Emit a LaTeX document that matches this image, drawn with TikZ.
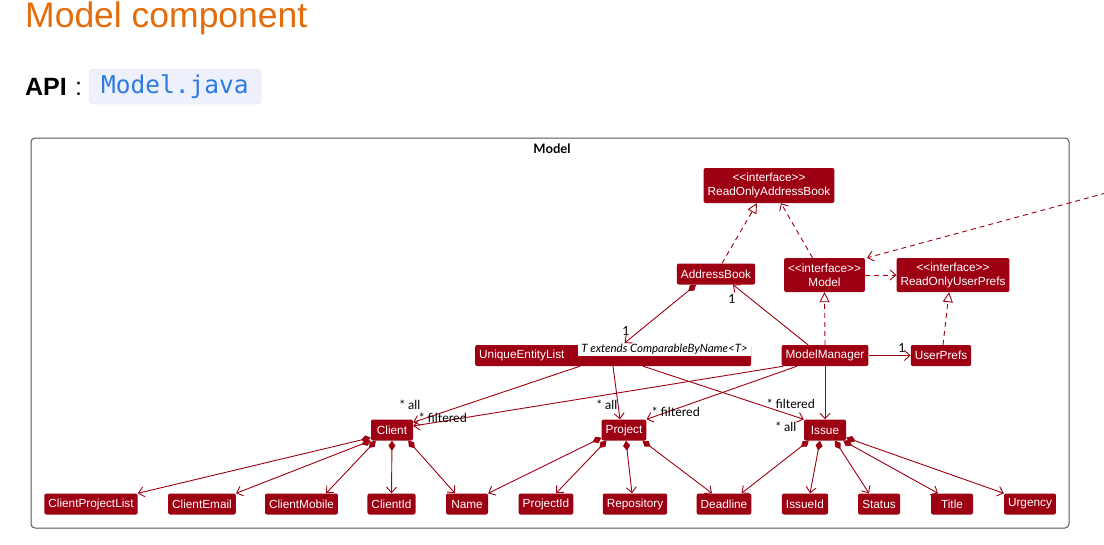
\documentclass[tikz,border=0pt]{standalone}
\usepackage{fontspec}
\setmainfont{Liberation Sans}
\newfontfamily\lblfont{Lato}
\newfontfamily\codefont{DejaVu Sans Mono}
\usetikzlibrary{arrows.meta}
\definecolor{modelred}{HTML}{9D0012}
\definecolor{headorange}{HTML}{E46C0A}
\definecolor{codeblue}{HTML}{2B7BE0}
\definecolor{codebg}{HTML}{EEF0FB}
\definecolor{codeline}{HTML}{DDE1F4}
\definecolor{framegray}{HTML}{555555}
\newcommand\ifc{<\kern0pt<interface>\kern0pt>}
\begin{document}
\begin{tikzpicture}[x=1pt,y=-1pt,
    assoc/.style={draw=modelred,line width=0.9pt,-{Straight Barb[length=5.5pt,width=10pt]}},
    depend/.style={assoc,dash pattern=on 5pt off 4pt},
    realize/.style={draw=modelred,line width=0.9pt,dash pattern=on 5pt off 4pt,
      -{Triangle[open,length=10pt,width=10pt,fill=white]}},
    comp/.style={assoc,{Diamond[length=10pt,width=7pt]}-{Straight Barb[length=5.5pt,width=10pt]}},
    lbl/.style={font=\lblfont\fontsize{12.5}{14}\selectfont,inner sep=0pt}]

  \fill[white] (0,0) rectangle (1104,544);
  \useasboundingbox (0,0) rectangle (1104,544);

  % page heading
  \node[anchor=base west,inner sep=0pt,text=headorange,font=\fontsize{35.5}{40}\selectfont]
    (head) at (25,27.5) {Model component};
  \node[anchor=base west,inner sep=0pt,font=\bfseries\fontsize{25}{28}\selectfont]
    (api) at (25,95) {API};
  \node[anchor=base west,inner sep=0pt,font=\fontsize{25}{28}\selectfont]
    (colon) at (75,95) {:};
  \node[draw=codeline,fill=codebg,rounded corners=4pt,minimum width=172pt,minimum height=35pt,
    text=codeblue,font=\codefont\fontsize{24.5}{28}\selectfont] (apifile) at (175,86.5) {Model.java};

  % package frame
  \node[draw=framegray,line width=1pt,rounded corners=4pt,minimum width=1038pt,minimum height=390pt]
    (frame) at (550,333) {};
  \node[font=\lblfont\bfseries\fontsize{13}{15}\selectfont,anchor=north] (frameT) at (552,140) {Model};

  \begin{scope}[every node/.style={fill=modelred,text=white,rounded corners=2pt,minimum width=42pt,
      minimum height=21pt,inner xsep=4pt,inner ysep=0pt,font=\fontsize{11.8}{14}\selectfont,align=center}]
    \node (rab) at (769,185.5) [minimum height=35pt] {\ifc\\ReadOnlyAddressBook};
    \node (ab)  at (716,274)   {AddressBook};
    \node (mi)  at (824.5,275) [minimum height=34pt] {\ifc\\Model};
    \node (rup) at (953,275)   [minimum height=34pt] {\ifc\\ReadOnlyUserPrefs};

    \node (uel) at (475,355.5) [anchor=west,text width=268pt,align=left] {UniqueEntityList};
    \node (mm)  at (825,355.5) {ModelManager};
    \node (up)  at (941,355.5) {UserPrefs};

    \node (cl)  at (392,430)   {Client};
    \node (pr)  at (624,430)   {Project};
    \node (is)  at (825,430)   {Issue};

    \node (cpl) at (91,504)    {ClientProjectList};
    \node (cem) at (202,504)   {ClientEmail};
    \node (cmo) at (301.5,504) {ClientMobile};
    \node (cid) at (391.5,504) {ClientId};
    \node (nam) at (467,504)   {Name};
    \node (pid) at (546,504)   {ProjectId};
    \node (rep) at (635,504)   {Repository};
    \node (dl)  at (724,504)   {Deadline};
    \node (iid) at (805,504)   {IssueId};
    \node (st)  at (879,504)   {Status};
    \node (ti)  at (952,504)   {Title};
    \node (ur)  at (1030,504)  {Urgency};
  \end{scope}

  \node[fill=white,inner xsep=3pt,inner ysep=0pt,minimum height=13pt,anchor=north east,
    font=\lblfont\itshape\fontsize{11.5}{13}\selectfont] (uelT) at (751,343) {T extends ComparableByName<T>};

  \coordinate (ext) at (1106,193);

  % interfaces
  \path ([xshift=6pt]ab.north) edge[realize] ([xshift=-12pt]rab.south);
  \path ([xshift=-12pt]mi.north) edge[depend] ([xshift=12pt]rab.south);
  \path (mi.east) edge[depend] (rup.west);
  \path (ext) edge[depend] ([xshift=2pt]mi.north east);
  \path (mm.north) edge[realize] (mi.south);
  \path ([xshift=2pt]up.north) edge[realize] ([xshift=-4pt]rup.south);

  % associations
  \path ([xshift=-20pt]ab.south) edge[comp] ([xshift=-40pt]uelT.north);
  \path ([xshift=-17pt]mm.north) edge[assoc] ([xshift=17pt]ab.south);
  \path (mm.east) edge[assoc] (up.west);
  \path ([xshift=105pt]uel.south west) edge[assoc] ([yshift=-3pt]cl.north east);
  \path ([xshift=2pt]mm.south west) edge[assoc] ([yshift=4pt]cl.east);
  \path ([xshift=138pt]uel.south west) edge[assoc] ([xshift=-4pt]pr.north);
  \path ([xshift=-28pt]mm.south) edge[assoc] (pr.north east);
  \path ([xshift=168pt]uel.south west) edge[assoc] (is.north west);
  \path (mm.south) edge[assoc] (is.north);

  \node[lbl] (n1) at (626,331) {1};
  \node[lbl] (n2) at (732,299) {1};
  \node[lbl] (n3) at (902,348) {1};
  \node[lbl] (c1) at (410,405) {* all};
  \node[lbl] (c2) at (443,418) {* filtered};
  \node[lbl] (p1) at (607,405) {* all};
  \node[lbl] (p2) at (676,412) {* filtered};
  \node[lbl] (i1) at (786,427) {* all};
  \node[lbl] (i2) at (791,404) {* filtered};

  % compositions
  \path ([yshift=3pt]cl.south west) edge[comp] (cpl.north east);
  \path (cl.south west) edge[comp] (cem.north east);
  \path ([xshift=5pt]cl.south west) edge[comp] ([xshift=-12pt]cmo.north east);
  \path (cl.south) edge[comp] (cid.north);
  \path ([xshift=-5pt]cl.south east) edge[comp] ([xshift=-12pt]nam.north);

  \path ([yshift=3pt]pr.south west) edge[comp] (nam.north east);
  \path ([xshift=5pt]pr.south west) edge[comp] ([xshift=10pt]pid.north);
  \path ([xshift=2pt]pr.south) edge[comp] ([xshift=-3pt]rep.north);
  \path ([xshift=-4pt]pr.south east) edge[comp] ([xshift=-12pt]dl.north);

  \path ([xshift=5pt]is.south west) edge[comp] ([xshift=-10pt]dl.north east);
  \path ([xshift=-5pt]is.south) edge[comp] ([xshift=5pt]iid.north);
  \path ([xshift=10pt]is.south) edge[comp] ([xshift=-10pt]st.north);
  \path ([xshift=-3pt]is.south east) edge[comp] ([xshift=-14pt]ti.north);
  \path ([yshift=3pt]is.south east) edge[comp] (ur.north west);

\end{tikzpicture}
\end{document}
